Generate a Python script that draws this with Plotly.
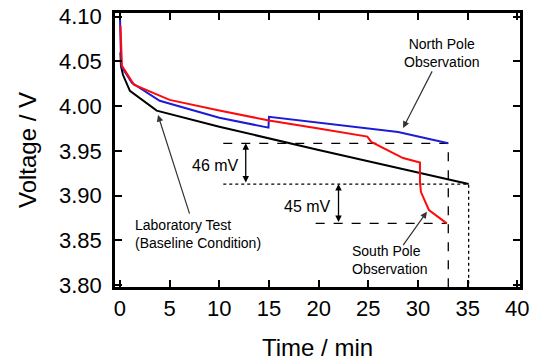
import plotly.graph_objects as go

# ---- data ----
north_t = [0.0, 0.05, 0.12, 1.2, 4.0, 10.0, 14.95, 15.0, 21.5, 28.0, 33.05]
north_v = [4.100, 4.060, 4.045, 4.026, 4.006, 3.987, 3.976, 3.988, 3.9795, 3.971, 3.9585]

south_t = [0.05, 0.1, 0.2, 1.4, 5.0, 10.0, 15.0, 20.0, 24.9, 25.3, 28.5, 30.2, 30.2, 30.3, 31.1, 32.9]
south_v = [4.090, 4.060, 4.045, 4.024, 4.007, 3.995, 3.984, 3.975, 3.966, 3.960, 3.942, 3.937, 3.915, 3.904, 3.884, 3.869]

lab_t = [0.05, 0.1, 0.3, 1.0, 3.7, 10.0, 20.0, 30.0, 35.1]
lab_v = [4.060, 4.045, 4.035, 4.017, 3.995, 3.977, 3.951, 3.926, 3.913]

x_ticks = [0, 5, 10, 15, 20, 25, 30, 35, 40]
y_ticks = [3.80, 3.85, 3.90, 3.95, 4.00, 4.05, 4.10]

FONT = "Liberation Sans, Arial, sans-serif"

fig = go.Figure()

n_end_t, n_end_v = north_t[-1], north_v[-1]
s_end_t, s_end_v = south_t[-1], south_v[-1]
l_end_t, l_end_v = lab_t[-1], lab_v[-1]
ymin = 3.798

# reference lines
fig.add_trace(go.Scatter(x=[10.4, n_end_t, n_end_t], y=[n_end_v, n_end_v, ymin],
                         mode="lines", line=dict(color="black", width=1.3, dash="dash"),
                         hoverinfo="skip"))
fig.add_trace(go.Scatter(x=[19.7, s_end_t], y=[s_end_v, s_end_v],
                         mode="lines", line=dict(color="black", width=1.3, dash="dash"),
                         hoverinfo="skip"))
fig.add_trace(go.Scatter(x=[10.4, l_end_t, l_end_t], y=[l_end_v, l_end_v, ymin],
                         mode="lines", line=dict(color="black", width=1.3, dash="dot"),
                         hoverinfo="skip"))

fig.add_trace(go.Scatter(x=lab_t, y=lab_v, mode="lines", line=dict(color="black", width=2)))
fig.add_trace(go.Scatter(x=north_t, y=north_v, mode="lines", line=dict(color="#1c1cd4", width=2)))
fig.add_trace(go.Scatter(x=south_t, y=south_v, mode="lines", line=dict(color="#ff0a0a", width=2)))

ann = []
def arrow(x0, y0, x1, y1, both=False):
    ann.append(dict(x=x1, y=y1, ax=x0, ay=y0, xref="x", yref="y", axref="x", ayref="y",
                    text="", showarrow=True, arrowhead=2, arrowsize=1 if both else 1.1,
                    arrowwidth=1.2 if not both else 1.3, arrowcolor="#333" if not both else "black",
                    arrowside="end+start" if both else "end", standoff=0, startstandoff=0))

def label(x, y, text, size=14, xanchor="left"):
    ann.append(dict(x=x, y=y, xref="x", yref="y", text=text, showarrow=False,
                    xanchor=xanchor, yanchor="middle", align="center" if xanchor == "center" else "left",
                    font=dict(family=FONT, size=size, color="black")))

label(32.4, 4.0595, "North Pole<br>Observation", xanchor="center")
arrow(31.5, 4.0405, 28.5, 3.9756)
label(1.3, 3.857, "Laboratory Test<br>(Baseline Condition)")
arrow(7.05, 3.8783, 3.83, 3.990)
label(23.2, 3.8285, "South Pole<br>Observation")
arrow(28.4, 3.843, 30.9, 3.882)
label(12.2, 3.934, "46 mV", size=16, xanchor="right")
arrow(12.66, l_end_v, 12.66, n_end_v, both=True)
label(21.45, 3.8876, "45 mV", size=16, xanchor="right")
arrow(22.0, s_end_v, 22.0, l_end_v, both=True)

axis_common = dict(showline=True, linewidth=2.5, linecolor="black", mirror="ticks",
                   ticks="inside", ticklen=7, tickwidth=2, tickcolor="black",
                   showgrid=False, zeroline=False, automargin=False,
                   tickfont=dict(family=FONT, size=22, color="black"))

fig.update_layout(
    width=538, height=363,
    margin=dict(l=115, r=18, t=13, b=76),
    paper_bgcolor="white", plot_bgcolor="white",
    showlegend=False,
    annotations=ann,
    xaxis=dict(range=[-0.5, 40.27], tickvals=x_ticks,
               title=dict(text="Time / min", font=dict(family=FONT, size=24, color="black"), standoff=20),
               **axis_common),
    yaxis=dict(range=[ymin, 4.104], tickvals=y_ticks, tickformat=".2f",
               title=dict(text="Voltage / V", font=dict(family=FONT, size=24, color="black"), standoff=16),
               ticklabelstandoff=6,
               **axis_common),
)

fig.write_html("out.html", config={"displayModeBar": False},
               post_script="document.body.style.margin='0';document.body.style.overflow='hidden';")
